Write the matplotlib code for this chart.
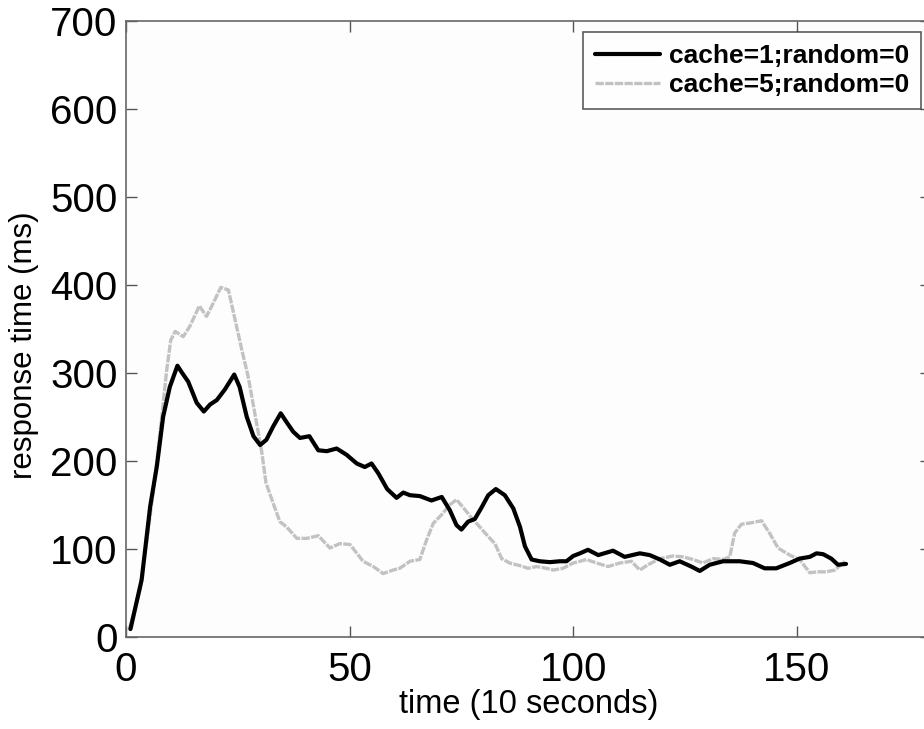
import matplotlib.pyplot as plt

# time axis values (10 s units) and response times
t_cache1 = [1, 3.5, 5.4, 6.9, 8.3, 9.8, 11.5, 12.4, 13.9, 15.8, 17.4, 18.8, 20.3, 22.1, 24.2,
            25.4, 27, 28.5, 30, 31.4, 32.9, 34.6, 35.9, 37.4, 38.9, 41, 43, 44.9, 47.1, 49.3,
            51.6, 53.4, 54.9, 56.4, 58.4, 60.5, 62, 63.5, 65.7, 68.3, 70.6, 72.4, 73.9, 75,
            76.5, 78, 79.5, 81, 82.7, 84.7, 86.6, 88.1, 89.2, 90.7, 92.5, 94.8, 97, 98.5, 100,
            101.5, 103.3, 105.6, 108.9, 111.5, 114.9, 117.1, 119.4, 121.6, 123.8, 126.4, 128.3,
            130.5, 133.5, 137.2, 140.2, 142.8, 145.4, 148.4, 150.6, 152.9, 154.4, 155.9, 157.7,
            159.2, 161]
rt_cache1 = [9, 65, 148, 194, 250, 284, 308, 301, 290, 266, 256, 264, 269, 281, 298,
             284, 250, 228, 218, 224, 239, 254, 244, 233, 226, 228, 212, 211, 214, 207,
             197, 193, 197, 186, 168, 158, 164, 161, 160, 155, 159, 144, 127, 122,
             131, 134, 147, 161, 168, 161, 146, 125, 103, 88, 86, 85, 86, 86, 92,
             95, 99, 93, 98, 91, 95, 93, 88, 82, 86, 80, 75,
             82, 86, 86, 84, 78, 78, 84, 89, 91, 95, 94, 89,
             82, 83]

t_cache5 = [0.7, 3.1, 5, 6.5, 8, 9.1, 10, 11, 12.8, 14.3, 16.4, 18, 19.5, 21.2, 22.9, 24.4,
            25.9, 27.3, 28.8, 30.3, 31.3, 32.9, 34.4, 35.9, 38.2, 40.4, 43, 45.6, 47.8, 50.1,
            53, 55.3, 57.5, 59.7, 61.2, 63.5, 65.7, 67.2, 68.7, 70.6, 72.4, 73.9, 75.4, 77.3,
            79.1, 81, 82.5, 84, 85.8, 88.1, 89.9, 91.8, 94, 95.5, 97.7, 100, 103, 105.2, 107.8,
            110.4, 113, 114.9, 116.7, 119.4, 122.3, 124.5, 126.8, 129, 131.3, 133.5, 135, 136.1,
            137.6, 140.2, 142.1, 143.9, 145.8, 148.4, 150.6, 152.9, 154.7, 156.6, 158.5, 160.7]
rt_cache5 = [8, 53, 122, 182, 250, 303, 337, 347, 341, 353, 376, 364, 379, 397, 394, 360,
             326, 296, 254, 212, 175, 152, 131, 125, 112, 112, 115, 101, 106, 105,
             86, 80, 72, 76, 78, 86, 88, 110, 129, 139, 150, 156, 147, 135,
             125, 114, 106, 89, 84, 81, 78, 80, 78, 76, 78, 84, 88, 84, 80,
             84, 86, 76, 82, 89, 92, 91, 88, 84, 89, 88, 91, 118,
             128, 130, 132, 118, 101, 93, 88, 73, 74, 74, 76, 86]

x_ticks = [0, 50, 100, 150]
y_ticks = [0, 100, 200, 300, 400, 500, 600, 700]

plt.rcParams['font.family'] = ['Liberation Sans', 'DejaVu Sans']

fig = plt.figure(figsize=(9.24, 7.29), dpi=100)
ax = fig.add_axes([126 / 924, 92 / 729, 805 / 924, 616.5 / 729])
ax.set_facecolor('#fdfdfd')

ax.plot(t_cache1, rt_cache1, color='black', linewidth=3, solid_joinstyle='round',
        solid_capstyle='round', label='cache=1;random=0', zorder=3)
ax.plot(t_cache5, rt_cache5, color='#c2c2c2', linewidth=2.4, linestyle=(0, (2.5, 0.4)),
        dash_joinstyle='round', label='cache=5;random=0', zorder=2)

ax.set_xlim(0, 180)
ax.set_ylim(0, 700)
ax.set_xticks(x_ticks)
ax.set_yticks(y_ticks)
ax.tick_params(direction='in', length=8, width=1, color='#555555', labelsize=29,
               top=True, right=True, pad=6)
ax.tick_params(axis='x', pad=10)
for s in ax.spines.values():
    s.set_color('#666666')
    s.set_linewidth(1.2)

ax.set_xlabel('time (10 seconds)', fontsize=23.5, labelpad=0)
ax.set_ylabel('response time (ms)', fontsize=22.5)
ax.yaxis.set_label_coords(-0.108, 0.473)

leg = ax.legend(loc='upper right', bbox_to_anchor=(921 / 924, 1 - 32 / 729),
                bbox_transform=fig.transFigure, prop={'weight': 'bold', 'size': 19},
                frameon=True, fancybox=False, handlelength=2.45, handletextpad=0.35,
                borderpad=0.45, labelspacing=0.2, borderaxespad=0)
leg.get_frame().set_edgecolor('#333333')
leg.get_frame().set_linewidth(1.2)

fig.savefig('out.png', dpi=100, facecolor='white')
